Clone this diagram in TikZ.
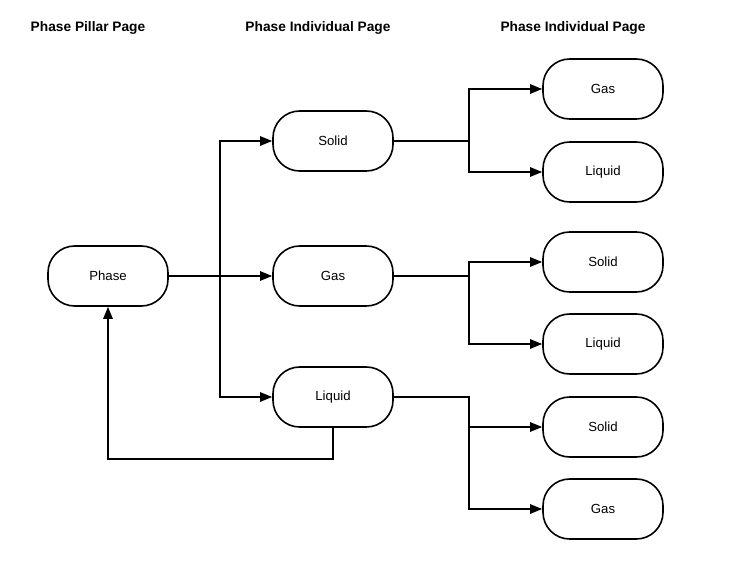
\documentclass[tikz,border=0pt]{standalone}
\usepackage{fontspec}
\setmainfont{Liberation Sans}
\usepackage{tikz}
\usetikzlibrary{arrows.meta}
\tikzset{>={Triangle[width=7pt,length=9pt]}}
\tikzset{page/.style={draw, rounded corners=20pt, minimum width=90pt,
    minimum height=45pt, font=\fontsize{9.9}{12}\selectfont}}
\tikzset{head/.style={font=\fontsize{10.3}{12}\selectfont\bfseries}}

\begin{document}
\begin{tikzpicture}[x=0.75pt, y=-0.75pt, line width=1.2pt]

  \newcommand\colA{108};
  \newcommand\colB{333};
  \newcommand\colC{603};

  \useasboundingbox (0,0) rectangle (730,584);

  % column titles
  \node[head] (pillarhead) at (88,28) {Phase Pillar Page};
  \node[head] (midhead) at (318,28) {Phase Individual Page};
  \node[head] (righthead) at (573,28) {Phase Individual Page};

  \node[page] (phase) at (\colA,276) {Phase};

  \node[page] (solid) at (\colB,141) {Solid};
  \node[page] (gas) at (\colB,276) {Gas};
  \node[page] (liquid) at (\colB,397) {Liquid};

  \node[page] (solidgas) at (\colC,89) {Gas};
  \node[page] (solidliquid) at (\colC,172) {Liquid};
  \node[page] (gassolid) at (\colC,262) {Solid};
  \node[page] (gasliquid) at (\colC,344) {Liquid};
  \node[page] (liquidsolid) at (\colC,427) {Solid};
  \node[page] (liquidgas) at (\colC,509) {Gas};

  % pillar to individual pages
  \coordinate (split) at (220,276);
  \draw[->] (phase.east) -- (gas.west);
  \draw[->] (split) |- (solid.west);
  \draw[->] (split) |- (liquid.west);
  \draw[->] (liquid.south) -- ++(0,31) -| (phase.south);

  % individual to individual pages
  \draw[->] (solid.east) -- ++(75,0) |- (solidgas.west);
  \draw[->] (solid.east) -- ++(75,0) |- (solidliquid.west);
  \draw[->] (gas.east) -- ++(75,0) |- (gassolid.west);
  \draw[->] (gas.east) -- ++(75,0) |- (gasliquid.west);
  \draw[->] (liquid.east) -- ++(75,0) |- (liquidsolid.west);
  \draw[->] (liquid.east) -- ++(75,0) |- (liquidgas.west);

\end{tikzpicture}
\end{document}
